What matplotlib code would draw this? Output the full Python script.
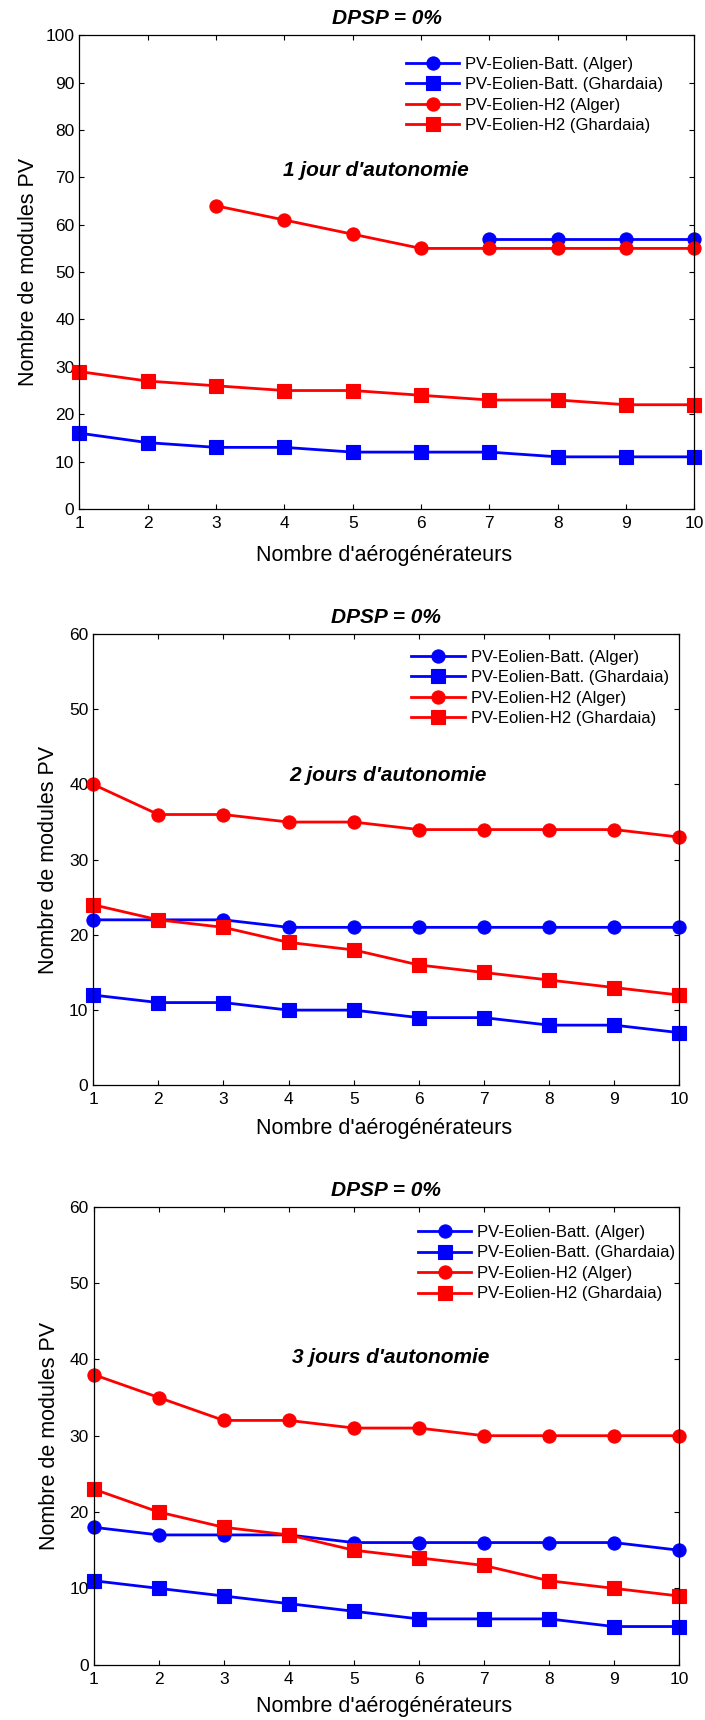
import matplotlib
matplotlib.use("Agg")
import matplotlib.pyplot as plt
import numpy as np

plt.rcParams['font.family'] = ['Liberation Sans', 'DejaVu Sans']

# Number of wind turbines
n_turbines = [1, 2, 3, 4, 5, 6, 7, 8, 9, 10]

# 1 day of autonomy
j1_batt_alger_x = [7, 8, 9, 10]
j1_batt_alger = [57, 57, 57, 57]
j1_batt_ghardaia = [16, 14, 13, 13, 12, 12, 12, 11, 11, 11]
j1_h2_alger_x = [3, 4, 5, 6, 7, 8, 9, 10]
j1_h2_alger = [64, 61, 58, 55, 55, 55, 55, 55]
j1_h2_ghardaia = [29, 27, 26, 25, 25, 24, 23, 23, 22, 22]

# 2 days of autonomy
j2_batt_alger = [22, 22, 22, 21, 21, 21, 21, 21, 21, 21]
j2_batt_ghardaia = [12, 11, 11, 10, 10, 9, 9, 8, 8, 7]
j2_h2_alger = [40, 36, 36, 35, 35, 34, 34, 34, 34, 33]
j2_h2_ghardaia = [24, 22, 21, 19, 18, 16, 15, 14, 13, 12]

# 3 days of autonomy
j3_batt_alger = [18, 17, 17, 17, 16, 16, 16, 16, 16, 15]
j3_batt_ghardaia = [11, 10, 9, 8, 7, 6, 6, 6, 5, 5]
j3_h2_alger = [38, 35, 32, 32, 31, 31, 30, 30, 30, 30]
j3_h2_ghardaia = [23, 20, 18, 17, 15, 14, 13, 11, 10, 9]

series_labels = ['PV-Eolien-Batt. (Alger)', 'PV-Eolien-Batt. (Ghardaia)',
                 'PV-Eolien-H2 (Alger)', 'PV-Eolien-H2 (Ghardaia)']
title_text = 'DPSP = 0%'
xlabel_text = "Nombre d'aérogénérateurs"
ylabel_text = 'Nombre de modules PV'

panels = [
    dict(rect=[0.1125, 0.7041, 0.8726, 0.2754], ymax=100, yticks=np.arange(0, 101, 10),
         series=[(j1_batt_alger_x, j1_batt_alger), (n_turbines, j1_batt_ghardaia),
                 (j1_h2_alger_x, j1_h2_alger), (n_turbines, j1_h2_ghardaia)],
         note="1 jour d'autonomie", note_xy=(5.34, 71.4),
         leg_xy=(0.531, 0.955), ylab_x=-0.082, xlab_y=-0.098),
    dict(rect=[0.1323, 0.3690, 0.8312, 0.2624], ymax=60, yticks=np.arange(0, 61, 10),
         series=[(n_turbines, j2_batt_alger), (n_turbines, j2_batt_ghardaia),
                 (n_turbines, j2_h2_alger), (n_turbines, j2_h2_ghardaia)],
         note="2 jours d'autonomie", note_xy=(5.53, 41.2),
         leg_xy=(0.543, 0.965), ylab_x=-0.076, xlab_y=-0.096),
    dict(rect=[0.1329, 0.03215, 0.8302, 0.2663], ymax=60, yticks=np.arange(0, 61, 10),
         series=[(n_turbines, j3_batt_alger), (n_turbines, j3_batt_ghardaia),
                 (n_turbines, j3_h2_alger), (n_turbines, j3_h2_ghardaia)],
         note="3 jours d'autonomie", note_xy=(5.56, 40.3),
         leg_xy=(0.554, 0.960), ylab_x=-0.076, xlab_y=-0.092),
]

styles = [('#0000ff', 'o'), ('#0000ff', 's'), ('#ff0000', 'o'), ('#ff0000', 's')]

fig = plt.figure(figsize=(7.05, 17.2), dpi=100)

for p in panels:
    ax = fig.add_axes(p['rect'])
    for (xs, ys), (col, mk), lab in zip(p['series'], styles, series_labels):
        ax.plot(xs, ys, color=col, marker=mk, markersize=9.5, linewidth=2.0,
                markeredgewidth=0.8, label=lab, clip_on=False)
    ax.set_xlim(1, 10)
    ax.set_ylim(0, p['ymax'])
    ax.set_xticks(n_turbines)
    ax.set_yticks(p['yticks'])
    ax.tick_params(direction='in', length=3.8, width=0.8, top=True, right=True,
                   labelsize=12.5, colors='black')
    ax.tick_params(axis='x', pad=5)
    ax.tick_params(axis='y', pad=3.5)
    for sp in ax.spines.values():
        sp.set_linewidth(0.9)
    ax.set_title(title_text, fontsize=15, fontweight='bold', fontstyle='italic', pad=8)
    ax.set_xlabel(xlabel_text, fontsize=15.5, va='center')
    ax.xaxis.set_label_coords(0.496, p['xlab_y'])
    ax.set_ylabel(ylabel_text, fontsize=15.5, va='center')
    ax.yaxis.set_label_coords(p['ylab_x'], 0.5)
    ax.text(p['note_xy'][0], p['note_xy'][1], p['note'], fontsize=15,
            fontweight='bold', fontstyle='italic', ha='center', va='center')
    leg = ax.legend(loc='upper left', bbox_to_anchor=p['leg_xy'], frameon=False,
                    fontsize=12, handlelength=3.2, handletextpad=0.35,
                    borderpad=0, borderaxespad=0, labelspacing=0.33)

fig.savefig('out.png', dpi=100)
